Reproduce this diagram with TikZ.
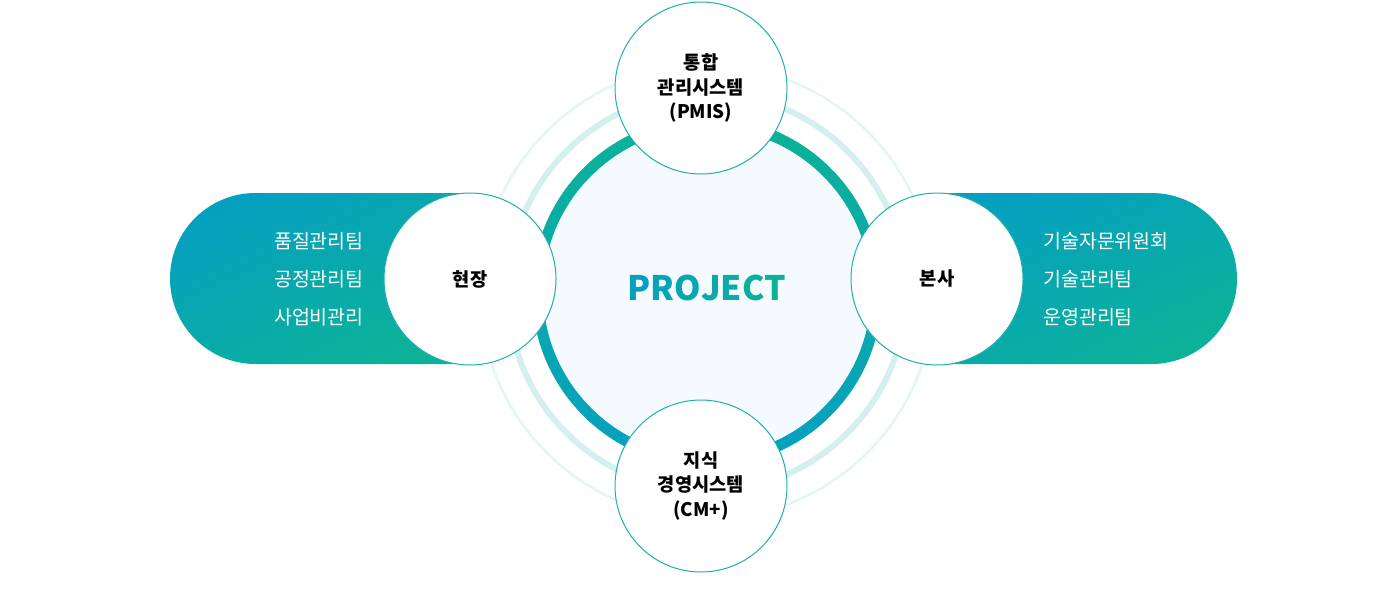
\documentclass[tikz,border=0pt]{standalone}
\usepackage{fontspec}
\setmainfont{Noto Sans CJK KR}
\usetikzlibrary{positioning}

\definecolor{pblue}{HTML}{05A0C0}
\definecolor{pgreen}{HTML}{0CB298}
\definecolor{ringlight}{HTML}{D3EFEE}
\definecolor{ringfaint}{HTML}{E4F5F5}
\definecolor{corefill}{HTML}{F4FAFD}
\definecolor{satline}{HTML}{1FAFB3}

\tikzset{
  sat/.style={circle,draw=satline,line width=1pt,fill=white,minimum size=172pt,
    inner sep=0pt,align=center,font=\fontsize{18.7}{24.5}\selectfont\bfseries},
  team/.style={text=white,inner sep=0pt,font=\fontsize{19.5}{21}\selectfont},
  pill/.style={top color=pblue,bottom color=pgreen,shading angle=25},
}

\begin{document}
\begin{tikzpicture}[x=1pt,y=-1pt]
\useasboundingbox (0,0) rectangle (1400,613);
%
% rings round the project
\coordinate (c) at (707,292);
\draw[ringfaint,line width=2.5pt] (c) circle[radius=227];
\draw[ringlight,line width=6pt] (c) circle[radius=199];
\node[circle,fill=corefill,minimum size=334pt,inner sep=0pt] (core) at (c) {};
\shade[top color=pgreen,bottom color=pblue,even odd rule]
  (c) circle[radius=175] (c) circle[radius=164];
%
% side pills
\shade[pill] (470,193) -- (255.5,193) arc[start angle=270,end angle=90,radius=85.5]
  -- (470,364) -- cycle;
\shade[pill] (937,193) -- (1151.5,193) arc[start angle=270,end angle=450,radius=85.5]
  -- (937,364) -- cycle;
%
% satellites
\node[sat] (pmis) at (701,88) {통합\\관리시스템\\(PMIS)};
\node[sat] (cmplus) at (701,486) {지식\\경영시스템\\(CM+)};
\node[sat] (site) at (470,279) {현장};
\node[sat] (hq) at (937,279) {본사};
%
% teams
\foreach \t [count=\i] in {품질관리팀,공정관리팀,사업비관리}
  \node[team,anchor=east] (lt\i) at (364,203+38*\i) {\t};
\foreach \t [count=\i] in {기술자문위원회,기술관리팀,운영관리팀}
  \node[team,anchor=west] (rt\i) at (1043,203+38*\i) {\t};
%
\node[font=\fontsize{33.7}{36}\selectfont\bfseries] (proj) at (707,288)
  {\textcolor{pblue}{P}\textcolor{pblue!83!pgreen}{R}\textcolor{pblue!67!pgreen}{O}%
   \textcolor{pblue!50!pgreen}{J}\textcolor{pblue!33!pgreen}{E}%
   \textcolor{pblue!17!pgreen}{C}\textcolor{pgreen}{T}};
%
\end{tikzpicture}
\end{document}
